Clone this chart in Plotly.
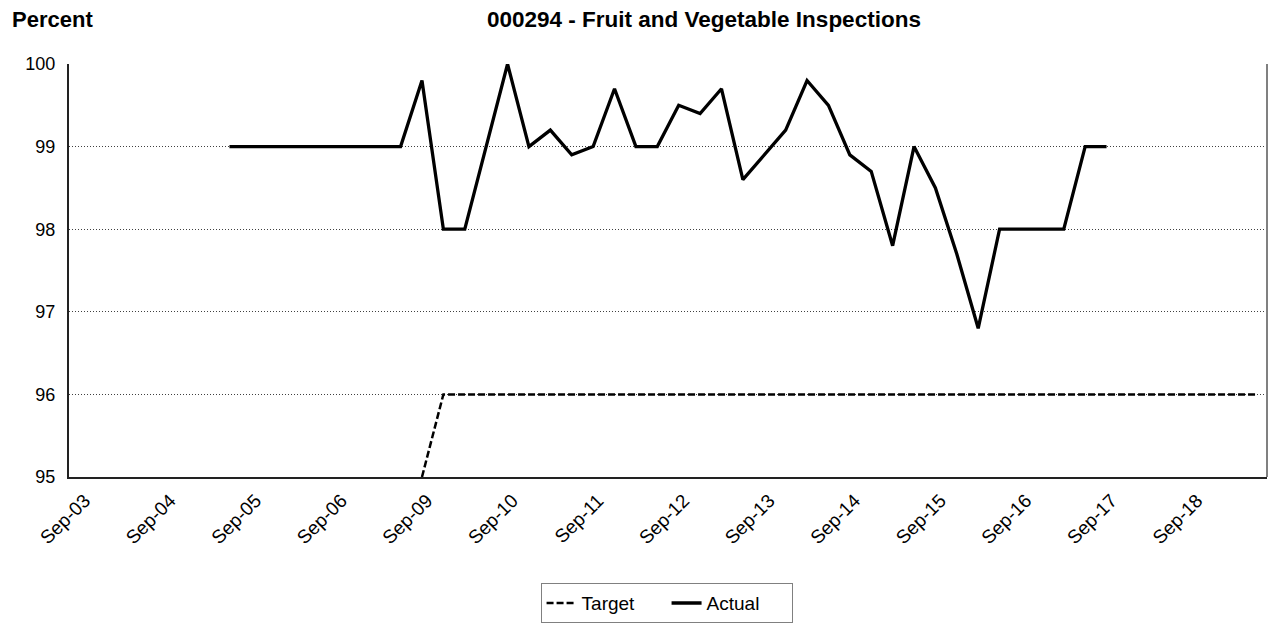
import plotly.graph_objects as go

# ---- data ----
tick_labels = ["Sep-03", "Sep-04", "Sep-05", "Sep-06", "Sep-09", "Sep-10", "Sep-11",
               "Sep-12", "Sep-13", "Sep-14", "Sep-15", "Sep-16", "Sep-17", "Sep-18"]

# quarterly categories: each labelled September followed by three unlabelled quarters
quarters = []
for lab in tick_labels:
    yy = int(lab[-2:])
    quarters += [lab, f"Dec-{yy:02d}", f"Mar-{yy + 1:02d}", f"Jun-{yy + 1:02d}"]

actual_start = 7
actual_values = [99, 99, 99, 99, 99, 99, 99, 99, 99,
                 99.8, 98, 98, 99, 100, 99, 99.2, 98.9, 99, 99.7,
                 99, 99, 99.5, 99.4, 99.7, 98.6, 98.9, 99.2, 99.8, 99.5,
                 98.9, 98.7, 97.8, 99, 98.5, 97.7, 96.8, 98, 98, 98,
                 98, 99, 99]

target_start = 16
target_values = [95, 96, 96, 96, 96, 96, 96, 96, 96, 96,
                 96, 96, 96, 96, 96, 96, 96, 96, 96, 96,
                 96, 96, 96, 96, 96, 96, 96, 96, 96, 96,
                 96, 96, 96, 96, 96, 96, 96, 96, 96, 96]

y_ticks = [95, 96, 97, 98, 99, 100]

FONT = "Liberation Sans, Arial, sans-serif"

fig = go.Figure()
fig.add_trace(go.Scatter(
    x=quarters[target_start:target_start + len(target_values)],
    y=target_values, mode="lines", name="Target",
    line=dict(color="black", width=2.5, dash="7px,3px"),
))
fig.add_trace(go.Scatter(
    x=quarters[actual_start:actual_start + len(actual_values)],
    y=actual_values, mode="lines", name="Actual",
    line=dict(color="black", width=3.3),
))

fig.update_layout(
    width=1269, height=633,
    margin=dict(l=69, r=2, t=64, b=156),
    paper_bgcolor="white", plot_bgcolor="white",
    font=dict(family=FONT, size=18, color="black"),
    showlegend=True,
    legend=dict(orientation="h", x=0.4988, xanchor="center", y=-0.257, yanchor="top",
                bordercolor="#808080", borderwidth=1, font=dict(size=19),
                traceorder="normal", entrywidth=80, itemwidth=30),
    annotations=[
        dict(text="<b>000294 - Fruit and Vegetable Inspections</b>", xref="paper", yref="paper",
             x=(704 - 69) / 1198, y=1, yshift=45, xanchor="center", yanchor="middle",
             showarrow=False, font=dict(size=22.5)),
        dict(text="<b>Percent</b>", xref="paper", yref="paper",
             x=-59 / 1198, y=1, yshift=45, xanchor="left", yanchor="middle",
             showarrow=False, font=dict(size=22)),
    ],
    shapes=[dict(type="line", xref="paper", yref="paper", x0=1, x1=1, y0=0, y1=1,
                 line=dict(color="#808080", width=2))],
)
fig.update_xaxes(
    type="category", categoryorder="array", categoryarray=quarters,
    range=[-0.5, len(quarters) - 0.5],
    tickmode="array", tickvals=tick_labels, ticktext=tick_labels,
    tickangle=-45, showgrid=False, ticks="", showline=True, linecolor="#222",
    linewidth=2, tickfont=dict(size=19), ticklabelshift=5, ticklabelstandoff=3,
)
fig.update_yaxes(
    range=[95, 100], tickmode="array", tickvals=y_ticks, showgrid=True,
    gridcolor="#404040", gridwidth=1, griddash="1px,2px", ticks="", showline=True,
    linecolor="#222", linewidth=2, zeroline=False, tickfont=dict(size=18),
    ticklabelstandoff=8,
)

fig.write_html("out.html", config={"displayModeBar": False},
               post_script="document.body.style.margin='0';document.body.style.overflow='hidden';")
